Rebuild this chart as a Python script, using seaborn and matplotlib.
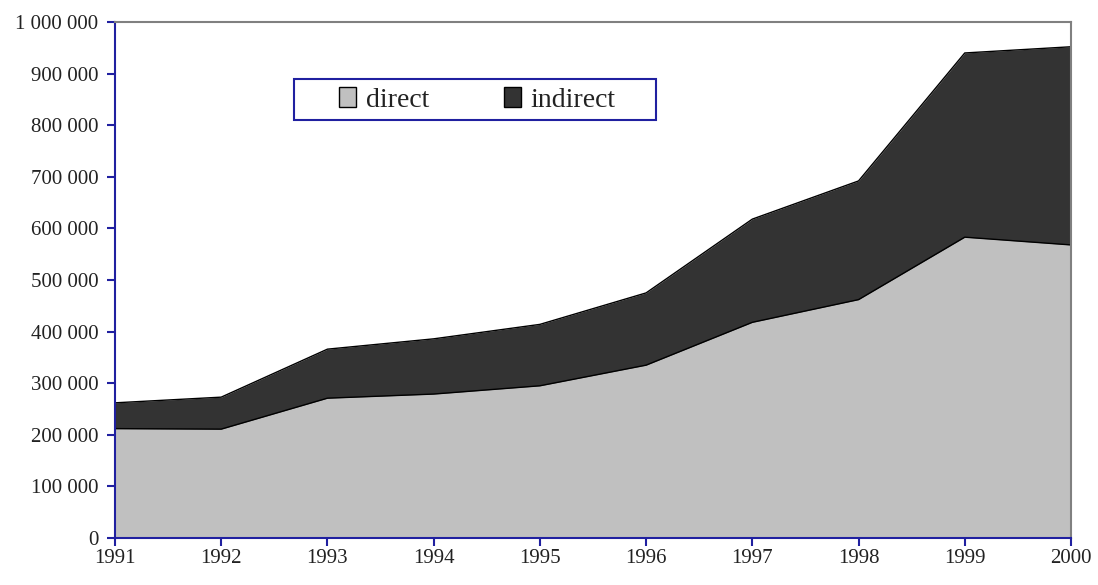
import matplotlib
matplotlib.use("Agg")
import matplotlib.pyplot as plt
import numpy as np
import pandas as pd
import seaborn as sns
from matplotlib.ticker import FuncFormatter

# ── data ──
years = [1991, 1992, 1993, 1994, 1995, 1996, 1997, 1998, 1999, 2000]
direct = [212000, 211000, 271000, 279000, 295000, 335000, 418000, 462000, 583000, 568000]
indirect = [50000, 62000, 95000, 107000, 119000, 140000, 200000, 230000, 357000, 384000]
series_names = ["direct", "indirect"]
series_colors = ["#c0c0c0", "#333333"]

sns.set_theme(style="white")
plt.rcParams["font.family"] = ["Liberation Serif", "DejaVu Serif"]

BLUE = "#2020a0"

df = pd.DataFrame({"year": years, "direct": direct, "indirect": indirect})
df["total"] = df["direct"] + df["indirect"]

fig = plt.figure(figsize=(10.98, 5.85), dpi=100)
ax = fig.add_axes([0.1047, 0.0803, 0.8707, 0.8821])

ax.fill_between(df["year"], 0, df["direct"], color=series_colors[0], label=series_names[0], lw=0)
ax.fill_between(df["year"], df["direct"], df["total"], color=series_colors[1], label=series_names[1], lw=0)
sns.lineplot(data=df, x="year", y="direct", color="black", lw=1, ax=ax, legend=False)
sns.lineplot(data=df, x="year", y="total", color="black", lw=1, ax=ax, legend=False)

ax.set_xlim(1991, 2000)
ax.set_ylim(0, 1000000)
ax.set_xticks(years)
ax.set_yticks(np.arange(0, 1000001, 100000))
ax.yaxis.set_major_formatter(FuncFormatter(lambda v, _: f"{int(v):,}".replace(",", " ")))
ax.set_xlabel("")
ax.set_ylabel("")

for side in ("left", "bottom"):
    ax.spines[side].set_color(BLUE)
    ax.spines[side].set_linewidth(1.5)
for side in ("top", "right"):
    ax.spines[side].set_color("#808080")
    ax.spines[side].set_linewidth(1.5)
ax.tick_params(axis="both", direction="out", length=6, width=1.5, color=BLUE,
               labelsize=15, labelcolor="#222222")
ax.tick_params(axis="x", bottom=True, pad=2)
ax.tick_params(axis="y", left=True, pad=6)

# legend box drawn separately so it can be wider than its content
ax.add_patch(plt.Rectangle((0.1872, 0.810), 0.3787, 0.0795, transform=ax.transAxes,
                           fill=True, fc="white", ec=BLUE, lw=1.5, zorder=5))
handles = [plt.Rectangle((0, 0), 1, 1, fc=c, ec="black", lw=1) for c in series_colors]
leg = ax.legend(handles, series_names, loc="center", bbox_to_anchor=(0.379, 0.849),
                ncol=2, fontsize=20, frameon=False, borderpad=0.2,
                handlelength=0.6, handleheight=0.7, handletextpad=0.35, columnspacing=2.7,
                labelcolor="#222222")
leg.set_zorder(6)

fig.savefig("out.png", dpi=100)
